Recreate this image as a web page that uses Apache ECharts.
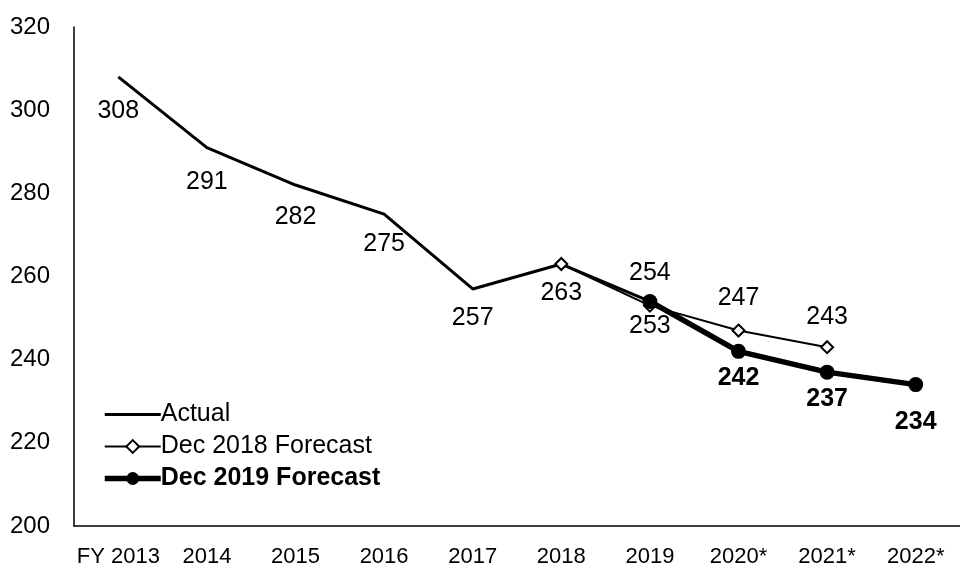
<!DOCTYPE html>
<html>
<head>
<meta charset="utf-8">
<script src="https://cdn.jsdelivr.net/npm/echarts@6/dist/echarts.min.js"></script>
<style>
  html, body { margin: 0; padding: 0; background: #fff; }
  #chart { width: 960px; height: 568px; }
</style>
</head>
<body>
<div id="chart"></div>
<script>
// fiscal years on the x axis
var years = ['FY 2013', '2014', '2015', '2016', '2017', '2018', '2019', '2020*', '2021*', '2022*'];
var actual = [308, 291, 282, 275, 257, 263, 254, null, null, null];
var dec2018 = [null, null, null, null, null, 263, 253, 247, 243, null];
var dec2019 = [null, null, null, null, null, null, 254, 242, 237, 234];
var yTicks = [200, 220, 240, 260, 280, 300, 320];

var FONT = 'Arial, "Liberation Sans", sans-serif';

// label tweaks per point (which side, how far)
function withLabels(values, spec) {
    return values.map(function (v, i) {
        if (v === null) return null;
        var s = spec[i];
        if (!s) return { value: v, label: { show: false } };
        return { value: v, label: { show: true, position: s[0], distance: s[1] } };
    });
}

var chart = echarts.init(document.getElementById('chart'));

chart.setOption({
    animation: false,
    textStyle: { fontFamily: FONT },
    grid: { left: 74, top: 27, width: 900, height: 504 },
    legend: {
        orient: 'vertical',
        left: 97,
        top: 397,
        itemWidth: 56,
        itemHeight: 16,
        itemGap: 7,
        textStyle: { fontSize: 25, color: '#000', fontFamily: FONT, padding: [0, 0, 0, -5] },
        data: [
            { name: 'Actual', itemStyle: { opacity: 0 }, lineStyle: { width: 3, color: '#000' } },
            { name: 'Dec 2018 Forecast', lineStyle: { width: 2, color: '#000' } },
            {
                name: 'Dec 2019 Forecast',
                lineStyle: { width: 5.5, color: '#000' },
                textStyle: { fontWeight: 'bold' }
            }
        ]
    },
    xAxis: {
        type: 'category',
        data: years,
        boundaryGap: true,
        axisLine: { lineStyle: { color: '#000', width: 1.5 } },
        axisTick: { show: false },
        axisLabel: { color: '#000', fontSize: 22, margin: 20, interval: 0 }
    },
    yAxis: {
        type: 'value',
        min: yTicks[0],
        max: yTicks[yTicks.length - 1],
        interval: 20,
        axisLine: { show: true, lineStyle: { color: '#000', width: 1.5 } },
        axisTick: { show: false },
        splitLine: { show: false },
        axisLabel: { color: '#000', fontSize: 24, margin: 24 }
    },
    series: [
        {
            name: 'Actual',
            type: 'line',
            data: withLabels(actual, {
                0: ['bottom', 22], 1: ['bottom', 22], 2: ['bottom', 20],
                3: ['bottom', 17], 4: ['bottom', 17], 5: ['bottom', 17],
                6: ['top', 16]
            }),
            symbol: 'circle',
            symbolSize: 0.1,
            lineStyle: { color: '#000', width: 3 },
            itemStyle: { color: '#000' },
            label: { color: '#000', fontSize: 25, fontFamily: FONT },
            z: 2
        },
        {
            name: 'Dec 2018 Forecast',
            type: 'line',
            data: withLabels(dec2018, {
                6: ['bottom', 1], 7: ['top', 13], 8: ['top', 11]
            }),
            symbol: 'diamond',
            symbolSize: 12,
            lineStyle: { color: '#000', width: 2 },
            itemStyle: { color: '#fff', borderColor: '#000', borderWidth: 2 },
            label: { color: '#000', fontSize: 25, fontFamily: FONT },
            z: 3
        },
        {
            name: 'Dec 2019 Forecast',
            type: 'line',
            data: withLabels(dec2019, {
                7: ['bottom', 7], 8: ['bottom', 7], 9: ['bottom', 17]
            }),
            symbol: 'circle',
            symbolSize: 15,
            lineStyle: { color: '#000', width: 5.5 },
            itemStyle: { color: '#000' },
            label: { color: '#000', fontSize: 25, fontWeight: 'bold', fontFamily: FONT },
            z: 4
        }
    ]
});
</script>
</body>
</html>
